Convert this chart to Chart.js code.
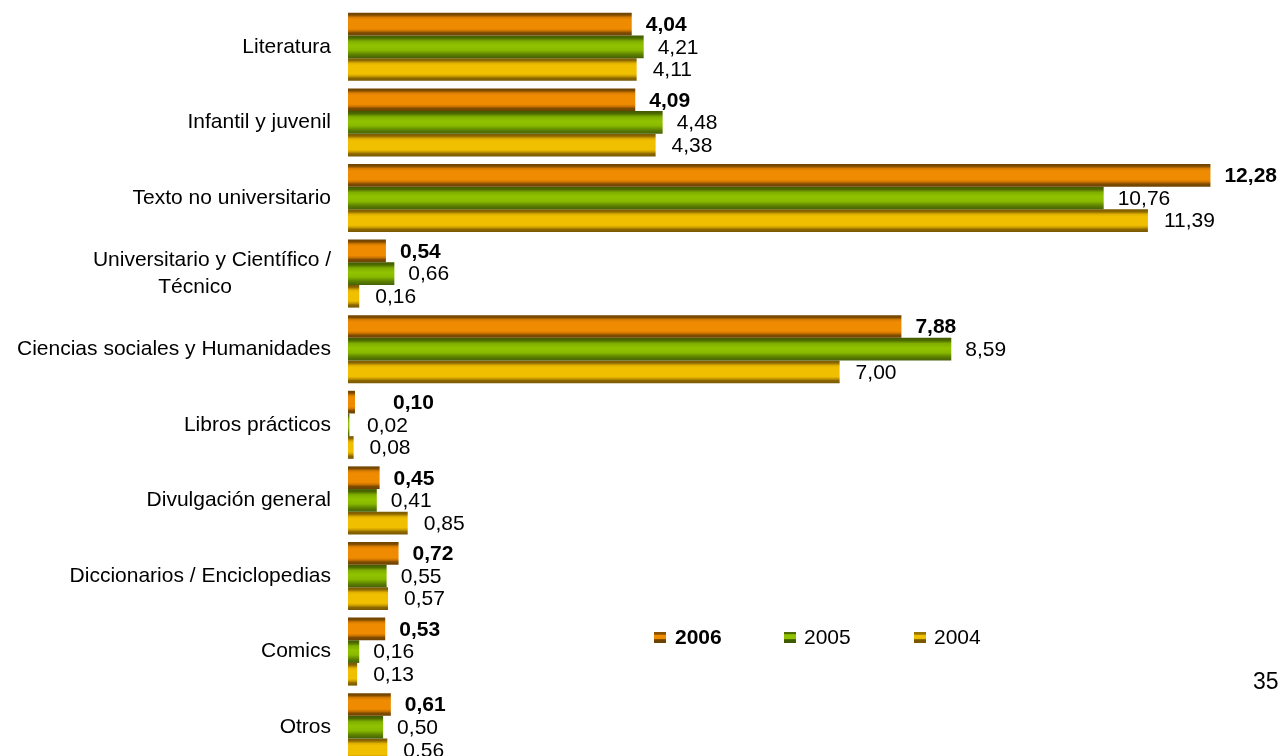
<!DOCTYPE html>
<html>
<head>
<meta charset="utf-8">
<script src="https://cdn.jsdelivr.net/npm/chart.js@4.4.1/dist/chart.umd.min.js"></script>
<style>
html,body{margin:0;padding:0;background:#fff;overflow:hidden;width:1283px;height:756px;}
#wrap{position:absolute;left:0;top:0;width:1283px;height:765px;}
.lg{position:absolute;font-family:"Liberation Sans",Arial,sans-serif;font-size:21px;color:#000;line-height:24px;white-space:nowrap;}
.sw{position:absolute;width:12px;height:11px;}
</style>
</head>
<body>
<div id="wrap"><canvas id="c"></canvas></div>
<div class="sw" style="left:654px;top:632px;background:linear-gradient(#8a5200 0%,#8a5200 20%,#f08c00 30%,#f08c00 60%,#6e4200 70%,#6e4200 100%);"></div>
<div class="lg" style="left:675px;top:625px;font-weight:bold;">2006</div>
<div class="sw" style="left:784px;top:632px;background:linear-gradient(#4f6a00 0%,#4f6a00 15%,#92c300 25%,#92c300 60%,#3f5a00 70%,#3f5a00 100%);"></div>
<div class="lg" style="left:804px;top:625px;">2005</div>
<div class="sw" style="left:914px;top:632px;background:linear-gradient(#9a7400 0%,#9a7400 20%,#f0c000 30%,#f0c000 60%,#7a5800 70%,#7a5800 100%);"></div>
<div class="lg" style="left:934px;top:625px;">2004</div>
<div class="lg" style="left:1253px;top:669px;font-size:23px;">35</div>
<script>
const categories = [
  "Literatura",
  "Infantil y juvenil",
  "Texto no universitario",
  ["Universitario y Científico /", "Técnico" + " ".repeat(17)],
  "Ciencias sociales y Humanidades",
  "Libros prácticos",
  "Divulgación general",
  "Diccionarios / Enciclopedias",
  "Comics",
  "Otros"
];
const seriesNames = ["2006", "2005", "2004"];
const values2006 = [4.04, 4.09, 12.28, 0.54, 7.88, 0.10, 0.45, 0.72, 0.53, 0.61];
const values2005 = [4.21, 4.48, 10.76, 0.66, 8.59, 0.02, 0.41, 0.55, 0.16, 0.50];
const values2004 = [4.11, 4.38, 11.39, 0.16, 7.00, 0.08, 0.85, 0.57, 0.13, 0.56];
const xTickMax = 13;

const CAT_PCT = 0.9;
const FONT = '"Liberation Sans", Arial, sans-serif';

const stopsOrange = [[0,'#6e4200'],[0.1,'#7e4c00'],[0.2,'#d87c00'],[0.3,'#ee8b00'],[0.7,'#ee8b00'],[0.8,'#c87000'],[0.88,'#7e4c00'],[1,'#6e4200']];
const stopsGreen  = [[0,'#3f5a00'],[0.12,'#4f6c00'],[0.25,'#7fae00'],[0.45,'#92c300'],[0.65,'#88b900'],[0.85,'#5a7e00'],[1,'#46620a']];
const stopsYellow = [[0,'#7a5800'],[0.1,'#8c6800'],[0.22,'#e0b000'],[0.32,'#f0c000'],[0.7,'#f0c000'],[0.8,'#c89a00'],[0.88,'#8c6800'],[1,'#7a5800']];

function makeFill(stops, fallback) {
  return function (ctx) {
    const chart = ctx.chart;
    const ys = chart.scales.y;
    if (!ys || ctx.type !== 'data' || !isFinite(ys.getPixelForValue(1))) return fallback;
    const step = Math.abs(ys.getPixelForValue(1) - ys.getPixelForValue(0));
    const n = chart.data.datasets.length;
    const h = step * CAT_PCT / n;
    const top = ys.getPixelForValue(ctx.dataIndex) - step * CAT_PCT / 2 + ctx.datasetIndex * h;
    const g = chart.ctx.createLinearGradient(0, top, 0, top + h);
    stops.forEach(s => g.addColorStop(s[0], s[1]));
    return g;
  };
}

function fmt(v) { return v.toFixed(2).replace('.', ','); }

const GAP = [14, 14, 16];
const MINOFF = [45, 19, 18];

const labelPlugin = {
  id: 'vlabels',
  afterDatasetsDraw(chart) {
    const c = chart.ctx;
    const left = chart.chartArea.left;
    c.save();
    c.textBaseline = 'middle';
    c.textAlign = 'left';
    c.fillStyle = '#000';
    chart.data.datasets.forEach((ds, di) => {
      const meta = chart.getDatasetMeta(di);
      c.font = (di === 0 ? 'bold ' : '') + '21px ' + FONT;
      meta.data.forEach((el, i) => {
        const x = Math.max(el.x + GAP[di], left + MINOFF[di]);
        c.fillText(fmt(ds.data[i]), x, el.y + 1);
      });
    });
    c.restore();
  }
};

new Chart(document.getElementById('c'), {
  type: 'bar',
  data: {
    labels: categories,
    datasets: [
      { label: seriesNames[0], data: values2006, backgroundColor: makeFill(stopsOrange, '#ee8b00') },
      { label: seriesNames[1], data: values2005, backgroundColor: makeFill(stopsGreen, '#92c300') },
      { label: seriesNames[2], data: values2004, backgroundColor: makeFill(stopsYellow, '#f0c000') }
    ]
  },
  options: {
    indexAxis: 'y',
    responsive: true,
    maintainAspectRatio: false,
    animation: false,
    events: [],
    datasets: { bar: { categoryPercentage: CAT_PCT, barPercentage: 1, borderWidth: 0 } },
    layout: { padding: { top: 9, right: 22, left: 0, bottom: 0 } },
    plugins: { legend: { display: false }, tooltip: { enabled: false } },
    scales: {
      x: { display: false, min: 0, max: xTickMax },
      y: {
        grid: { display: false, drawTicks: false },
        border: { display: false },
        ticks: { color: '#000', padding: 17, autoSkip: false, font: { family: FONT, size: 21, lineHeight: 1.25 } },
        afterFit(scale) { scale.width = 348; scale.paddingTop = 0; scale.paddingBottom = 0; }
      }
    }
  },
  plugins: [labelPlugin]
});
</script>
</body>
</html>
